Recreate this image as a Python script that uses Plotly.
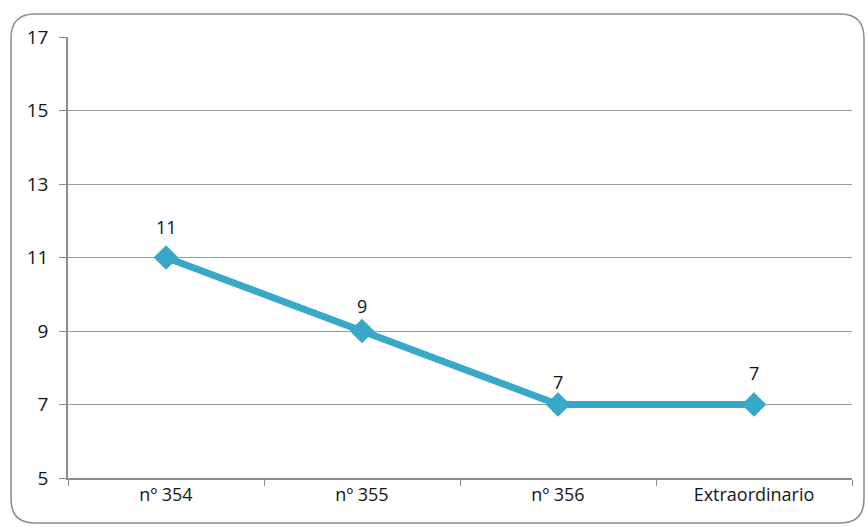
import plotly.graph_objects as go

categories = ["nº 354", "nº 355", "nº 356", "Extraordinario"]
values = [11, 9, 7, 7]
y_ticks = [5, 7, 9, 11, 13, 15, 17]

W, H = 867, 527
ML, MR, MT, MB = 68, 15, 37, 49
PW, PH = W - ML - MR, H - MT - MB
label_shift = [31, 25, 23, 32]
FONT = "Open Sans"

def px(x):
    return (x - ML) / PW

def py(y):
    return (H - MB - y) / PH

fig = go.Figure()
fig.add_trace(go.Scatter(
    x=categories, y=values, mode="lines+markers",
    line=dict(color="#38a8c9", width=7),
    marker=dict(symbol="diamond", size=19, color="#38a8c9"),
    cliponaxis=False, showlegend=False, hoverinfo="skip"))

for c, v, s in zip(categories, values, label_shift):
    fig.add_annotation(x=c, y=v, text=str(v), showarrow=False, yshift=s,
                       font=dict(size=18, color="#111111", family=FONT))

# rounded outer frame
x0, x1, y0, y1, r = 11, 864, 14, 523, 24
path = (f"M {px(x0+r)},{py(y0)} L {px(x1-r)},{py(y0)} Q {px(x1)},{py(y0)} {px(x1)},{py(y0+r)} "
        f"L {px(x1)},{py(y1-r)} Q {px(x1)},{py(y1)} {px(x1-r)},{py(y1)} "
        f"L {px(x0+r)},{py(y1)} Q {px(x0)},{py(y1)} {px(x0)},{py(y1-r)} "
        f"L {px(x0)},{py(y0+r)} Q {px(x0)},{py(y0)} {px(x0+r)},{py(y0)} Z")
fig.add_shape(type="path", path=path, xref="paper", yref="paper",
              line=dict(color="#8a8a8a", width=1.5), layer="below")

fig.update_layout(
    width=W, height=H, margin=dict(l=ML, r=MR, t=MT, b=MB),
    paper_bgcolor="white", plot_bgcolor="white",
    font=dict(family=FONT, size=18, color="#151515"),
    xaxis=dict(type="category", tickson="boundaries", ticks="outside", ticklen=6,
               tickcolor="#8c8c8c", showgrid=False, showline=True, linecolor="#8c8c8c",
               linewidth=1.5, tickfont=dict(size=18), range=[-0.5, 3.5]),
    yaxis=dict(range=[5, 17], tickvals=y_ticks, ticks="outside", ticklen=7,
               tickcolor="#8c8c8c", showgrid=True, gridcolor="#9a9a9a", gridwidth=1,
               showline=True, linecolor="#8c8c8c", linewidth=1.5, zeroline=False,
               tickfont=dict(size=19), ticklabelstandoff=7),
)
fig.write_html("out.html", config={"displayModeBar": False},
               post_script="document.body.style.margin='0';document.body.style.overflow='hidden';")
